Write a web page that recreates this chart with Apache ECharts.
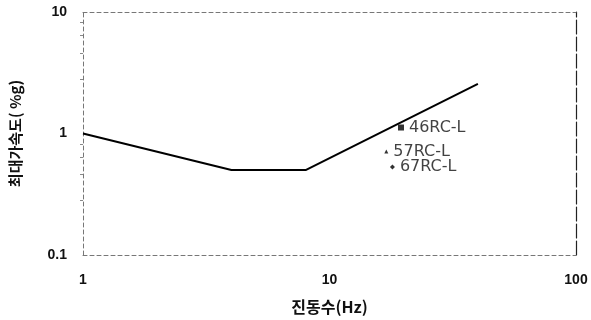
<!DOCTYPE html>
<html>
<head>
<meta charset="utf-8">
<script src="https://cdn.jsdelivr.net/npm/echarts@6/dist/echarts.min.js"></script>
<style>html,body{margin:0;padding:0;background:#fff}#c{width:591px;height:320px}</style>
</head>
<body>
<div id="c"></div>
<script>
// Design spectrum (frequency Hz, peak acceleration %g)
const limitFreq = [1, 4, 8, 40];
const limitAcc = [1.0, 0.5, 0.5, 2.56];

// Measured specimens
const specimenNames = ['46RC-L', '57RC-L', '67RC-L'];
const specimenFreq = [19.5, 17, 18];
const specimenAcc = [1.12, 0.71, 0.53];
const specimenSymbols = ['rect', 'triangle', 'diamond'];
const specimenSizes = [6, 4, 5];

const xTicks = [1, 10, 100];
const yTicks = [0.1, 1, 10];

const font = 'Liberation Sans, Arial, sans-serif';
const cjk = 'Noto Sans CJK KR';
const dashed = { show: true, lineStyle: { color: '#777', width: 1, type: [4, 3] } };

const chart = echarts.init(document.getElementById('c'));
chart.setOption({
  backgroundColor: '#fff',
  animation: false,
  grid: { left: 80, right: 15, top: 12, bottom: 63 },
  xAxis: [{
    type: 'log', logBase: 10, min: 1, max: 100,
    axisLine: dashed, axisTick: { show: false }, splitLine: { show: false },
    axisLabel: { color: '#111', fontFamily: font, fontSize: 14, fontWeight: 'bold', margin: 18,
      formatter: v => xTicks.includes(v) ? String(v) : '' },
    name: '진동수(Hz)', nameLocation: 'middle', nameGap: 44,
    nameTextStyle: { color: '#111', fontFamily: cjk, fontSize: 16, fontWeight: 'bold' }
  }, {
    type: 'log', logBase: 10, min: 1, max: 100, position: 'top',
    axisLine: dashed, axisTick: { show: false }, axisLabel: { show: false }, splitLine: { show: false }
  }],
  yAxis: [{
    type: 'log', logBase: 10, min: 0.1, max: 10,
    axisLine: dashed, axisTick: { show: false }, splitLine: { show: false },
    minorTick: { show: true, splitNumber: 5, length: 3, lineStyle: { color: '#888' } },
    axisLabel: { color: '#111', fontFamily: font, fontSize: 14, fontWeight: 'bold', margin: 16,
      formatter: v => yTicks.some(t => Math.abs(t - v) < 1e-9) ? String(v) : '' },
    name: '최대가속도( %g)', nameLocation: 'middle', nameGap: 60, nameRotate: 90,
    nameTextStyle: { color: '#111', fontFamily: cjk, fontSize: 15, fontWeight: 'bold' }
  }, {
    type: 'log', logBase: 10, min: 0.1, max: 10, position: 'right',
    axisLine: { show: true, lineStyle: { color: '#222', width: 1.2, type: [14, 3] } },
    axisTick: { show: false }, axisLabel: { show: false }, splitLine: { show: false }
  }],
  series: [{
    type: 'line',
    data: limitFreq.map((f, i) => [f, limitAcc[i]]),
    symbol: 'none',
    lineStyle: { color: '#000', width: 2 }
  }].concat(specimenNames.map((n, i) => ({
    type: 'scatter',
    name: n,
    data: [[specimenFreq[i], specimenAcc[i]]],
    symbol: specimenSymbols[i],
    symbolSize: specimenSizes[i],
    itemStyle: { color: '#000' },
    label: { show: true, position: 'right', distance: 5, formatter: n,
      color: '#111', fontFamily: 'DejaVu Sans, sans-serif', fontSize: 16 }
  })))
});
</script>
</body>
</html>
